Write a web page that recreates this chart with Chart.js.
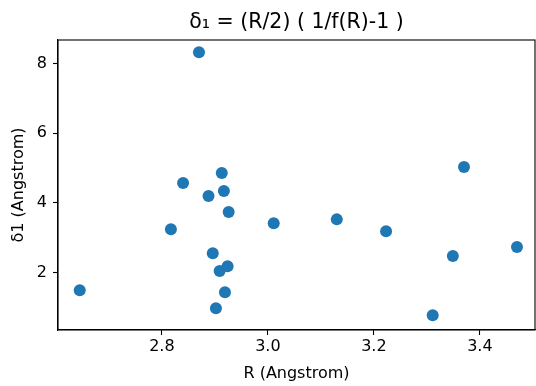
<!DOCTYPE html>
<html lang="en">
<head>
  <meta charset="UTF-8">
  <title>delta1 vs R</title>
  <script src="https://cdn.jsdelivr.net/npm/chart.js@4.4.1/dist/chart.umd.min.js"></script>
  <style>
    body { margin: 0; background: #fff; }
    canvas { display: block; }
  </style>
</head>
<body>

  <canvas id="plot" width="536" height="386"></canvas>

  <script>

  // values
  const rValues = [2.645, 2.870, 2.817, 2.840, 2.888, 2.913, 2.917, 2.926, 2.896, 2.909,
                   2.924, 2.919, 2.902, 3.011, 3.130, 3.223, 3.311, 3.349, 3.370, 3.470];
  const deltaValues = [1.50, 8.32, 3.25, 4.57, 4.20, 4.86, 4.34, 3.74, 2.56, 2.05,
                       2.19, 1.44, 0.98, 3.42, 3.53, 3.19, 0.78, 2.48, 5.03, 2.74];
  const xTicks = [2.8, 3.0, 3.2, 3.4];
  const yTicks = [2, 4, 6, 8];

  const points = rValues.map((r, i) => ({ x: r, y: deltaValues[i] }));

  // matplotlib style box round the plot area
  const frame = {
    id: 'frame',
    afterDraw(chart) {
      const { ctx, chartArea: a } = chart;
      ctx.save();
      ctx.strokeStyle = '#000';
      ctx.lineWidth = 1.1;
      ctx.strokeRect(a.left, a.top, a.right - a.left, a.bottom - a.top);
      ctx.restore();
    }
  };

  const font = { family: 'DejaVu Sans', size: 16 };

  new Chart(document.getElementById('plot').getContext('2d'), {
    type: 'scatter',
    data: {
      datasets: [{
        data: points,
        backgroundColor: '#1f77b4',
        borderWidth: 0,
        pointRadius: 6,
        pointHoverRadius: 6
      }]
    },
    options: {
      responsive: false,
      animation: false,
      layout: { autoPadding: false, padding: { left: 0, right: 1, top: 0, bottom: 0 } },
      plugins: {
        legend: { display: false },
        tooltip: { enabled: false },
        title: {
          display: true,
          fullSize: false,
          text: 'δ₁ = (R/2) ( 1/f(R)-1 )',
          color: '#000',
          font: { family: 'DejaVu Sans', size: 20.5, weight: 'normal' },
          padding: { top: 10, bottom: 5.4 }
        }
      },
      scales: {
        x: {
          min: 2.604,
          max: 3.504,
          afterBuildTicks: axis => { axis.ticks = xTicks.map(v => ({ value: v })); },
          afterFit: axis => { axis.height = 56; axis.paddingLeft = 0; axis.paddingRight = 0; },
          ticks: { color: '#000', font, padding: 2, callback: v => v.toFixed(1) },
          grid: { drawOnChartArea: false, drawTicks: true, tickLength: 5, color: '#000', tickWidth: 1.1 },
          border: { color: '#000', width: 1.1 },
          title: { display: true, text: 'R (Angstrom)', color: '#000', font, padding: { top: 0, bottom: 3 } }
        },
        y: {
          min: 0.36,
          max: 8.67,
          afterBuildTicks: axis => { axis.ticks = yTicks.map(v => ({ value: v })); },
          afterFit: axis => { axis.width = 58; axis.paddingTop = 0; axis.paddingBottom = 0; },
          ticks: { color: '#000', font, padding: 6, callback: v => String(v) },
          grid: { drawOnChartArea: false, drawTicks: true, tickLength: 5, color: '#000', tickWidth: 1.1 },
          border: { color: '#000', width: 1.1 },
          title: { display: true, text: 'δ1 (Angstrom)', color: '#000', font, padding: { top: 9, bottom: 0 } }
        }
      }
    },
    plugins: [frame]
  });

  </script>
</body>
</html>
